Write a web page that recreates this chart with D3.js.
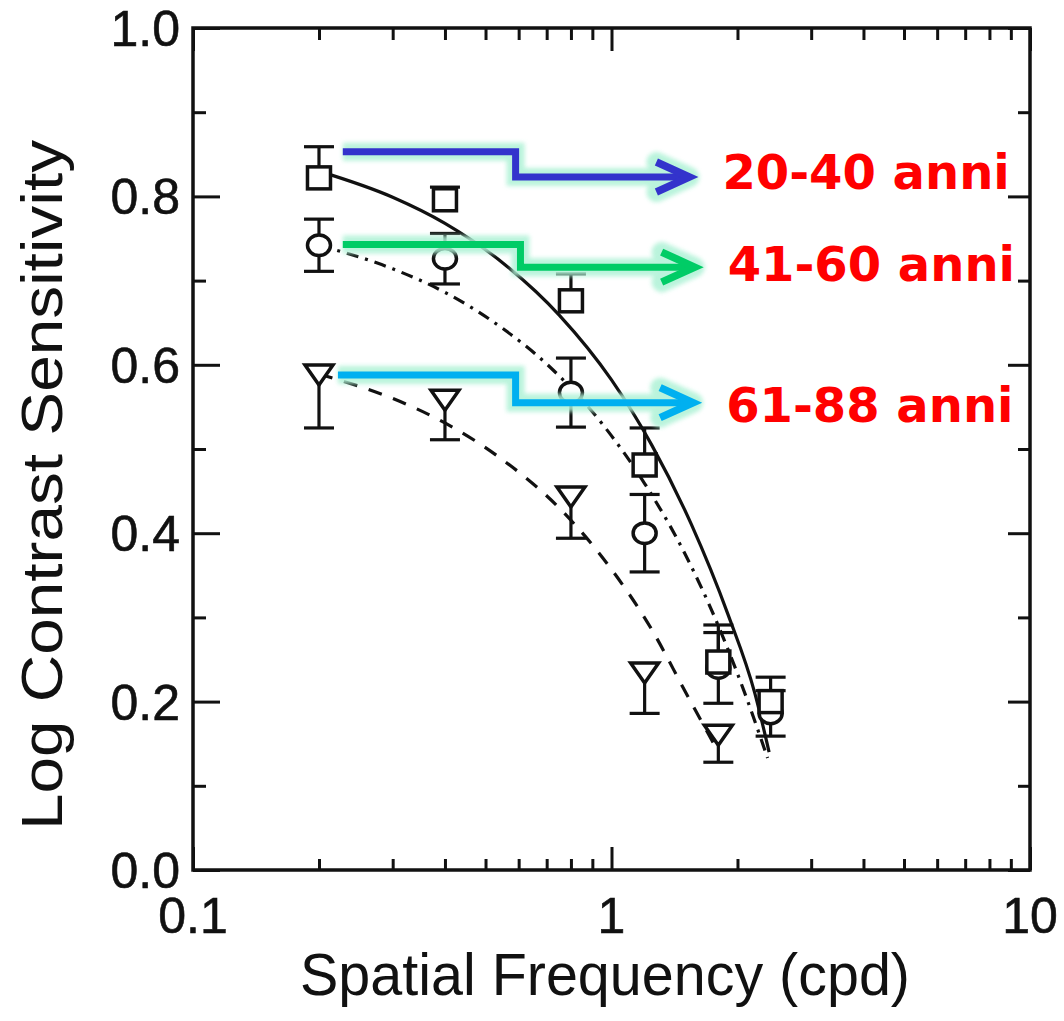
<!DOCTYPE html>
<html>
<head>
<meta charset="utf-8">
<script src="https://cdn.jsdelivr.net/npm/d3@7"></script>
<style>
  html, body { margin: 0; padding: 0; background: #fff; }
  svg { display: block; }
</style>
</head>
<body>
<svg id="chart" width="1064" height="1021"></svg>
<script>
// Spatial frequencies tested (cycles per degree)
const freq = [0.2, 0.4, 0.8, 1.2, 1.8, 2.4];
const freqOld = [0.2, 0.4, 0.8, 1.2, 1.8];

// Mean log contrast sensitivity and error per age group
const young = [0.822, 0.796, 0.676, 0.481, 0.247, 0.200];
const youngErr = [0.037, 0.015, 0.032, 0.044, 0.044, 0.029];
const middle = [0.742, 0.726, 0.567, 0.400, 0.240, 0.186];
const middleErr = [0.031, 0.030, 0.041, 0.046, 0.042, 0.027];
const older = [0.588, 0.558, 0.443, 0.234, 0.160];
const olderErr = [0.063, 0.047, 0.049, 0.048, 0.032];

// Fitted curves: [frequency, log CS]
const fitYoung = [[0.2,0.83],[0.3,0.799],[0.4,0.768],[0.55,0.721],[0.75,0.659],[1.0,0.582],[1.25,0.504],[1.55,0.411],[1.9,0.303],[2.2,0.21],[2.38,0.14]];
const fitMiddle = [[0.2,0.742],[0.3,0.714],[0.4,0.686],[0.55,0.643],[0.7,0.601],[0.95,0.53],[1.2,0.459],[1.5,0.375],[1.8,0.29],[2.1,0.205],[2.36,0.133]];
const fitOlder = [[0.2,0.589],[0.3,0.56],[0.4,0.531],[0.55,0.487],[0.75,0.43],[1.0,0.357],[1.25,0.285],[1.5,0.212],[1.8,0.14]];

// Axis ticks
const xMajor = [0.1, 1, 10];
const xMajorLabels = ["0.1", "1", "10"];
const xMinor = [0.2,0.3,0.4,0.5,0.6,0.7,0.8,0.9,2,3,4,5,6,7,8,9];
const yMajor = [0, 0.2, 0.4, 0.6, 0.8, 1.0];
const yMinor = [0.1, 0.3, 0.5, 0.7, 0.9];

// Age group call-outs
const groupLabels = ["20-40 anni", "41-60 anni", "61-88 anni"];
const groupColors = ["#3333cc", "#00cc66", "#00b0f0"];
const arrowStart = [0.228, 0.228, 0.222];
const arrowStep = [0.59, 0.606, 0.59];
const arrowTip = [1.535, 1.58, 1.567];
const arrowHigh = [0.853, 0.743, 0.588];
const arrowLow = [0.823, 0.716, 0.555];
const labelLevel = [0.809, 0.6995, 0.532];

const svg = d3.select("#chart");
const L = 193, R = 1030, T = 28, B = 870;
const x = d3.scaleLog().domain([0.1, 10]).range([L, R]);
const y = d3.scaleLinear().domain([0, 1]).range([B, T]);

const defs = svg.append("defs");
const blur = defs.append("filter").attr("id", "glow").attr("x", "-20%").attr("y", "-50%").attr("width", "140%").attr("height", "200%");
blur.append("feGaussianBlur").attr("stdDeviation", 2.2);

const AX = "#111";
const axisFont = "'Liberation Sans', Arial, Helvetica, sans-serif";

// Ticks on all four sides, pointing inward
function ticks(axisFn, values, size, transform) {
  const g = svg.append("g").attr("transform", transform)
    .call(axisFn.tickValues(values).tickSize(size).tickFormat(""));
  g.select(".domain").remove();
  g.selectAll(".tick line").attr("stroke", AX).attr("stroke-width", 3);
  return g;
}
ticks(d3.axisBottom(x), xMinor, -11, `translate(0,${B})`);
ticks(d3.axisBottom(x), xMajor, -23, `translate(0,${B})`);
ticks(d3.axisTop(x), xMinor, -12, `translate(0,${T})`);
ticks(d3.axisTop(x), xMajor, -23, `translate(0,${T})`);
ticks(d3.axisLeft(y), yMinor, -13, `translate(${L},0)`);
ticks(d3.axisLeft(y), yMajor, -27, `translate(${L},0)`);
ticks(d3.axisRight(y), yMinor, -12, `translate(${R},0)`);
ticks(d3.axisRight(y), yMajor, -22, `translate(${R},0)`);

// Frame
svg.append("rect").attr("x", L).attr("y", T).attr("width", R - L).attr("height", B - T)
  .attr("fill", "none").attr("stroke", AX).attr("stroke-width", 3.5);

// Tick labels
svg.append("g").selectAll("text").data(yMajor).join("text")
  .attr("x", 180).attr("y", d => y(d) + 18)
  .attr("text-anchor", "end")
  .attr("font-family", axisFont).attr("font-size", 50).attr("fill", AX)
  .attr("stroke", AX).attr("stroke-width", 0.6)
  .text(d => d.toFixed(1));
svg.append("g").selectAll("text").data(xMajor).join("text")
  .attr("x", d => x(d)).attr("y", 933)
  .attr("text-anchor", "middle")
  .attr("font-family", axisFont).attr("font-size", 50).attr("fill", AX)
  .attr("stroke", AX).attr("stroke-width", 0.6)
  .text((d, i) => xMajorLabels[i]);

// Axis titles
svg.append("text").attr("x", 605).attr("y", 995).attr("text-anchor", "middle")
  .attr("font-family", axisFont).attr("font-size", 59).attr("fill", AX)
  .attr("textLength", 610).attr("lengthAdjust", "spacingAndGlyphs")
  .text("Spatial Frequency (cpd)");
svg.append("text").attr("transform", "translate(62,485) rotate(-90)").attr("text-anchor", "middle")
  .attr("font-family", axisFont).attr("font-size", 58).attr("fill", AX)
  .attr("textLength", 690).attr("lengthAdjust", "spacingAndGlyphs")
  .text("Log Contrast Sensitivity");

// Fitted curves
const line = d3.line().x(d => x(d[0])).y(d => y(d[1])).curve(d3.curveMonotoneX);
const curves = [
  { pts: fitYoung, dash: null },
  { pts: fitMiddle, dash: "12,7,3,7" },
  { pts: fitOlder, dash: "14,12" }
];
svg.append("g").selectAll("path").data(curves).join("path")
  .attr("d", d => line(d.pts))
  .attr("fill", "none").attr("stroke", AX).attr("stroke-width", 3.2)
  .attr("stroke-dasharray", d => d.dash);

// Error bars
const CAP = 15;
function errorBars(fs, vals, errs, up, down) {
  const g = svg.append("g").attr("stroke", AX).attr("stroke-width", 3.2);
  fs.forEach((f, i) => {
    const cx = x(f);
    const top = up ? y(vals[i] + errs[i]) : y(vals[i]);
    const bot = down ? y(vals[i] - errs[i]) : y(vals[i]);
    g.append("line").attr("x1", cx).attr("x2", cx).attr("y1", top).attr("y2", bot);
    if (up) g.append("line").attr("x1", cx - CAP).attr("x2", cx + CAP).attr("y1", top).attr("y2", top);
    if (down) g.append("line").attr("x1", cx - CAP).attr("x2", cx + CAP).attr("y1", bot).attr("y2", bot);
  });
}
errorBars(freqOld, older, olderErr, false, true);
errorBars(freq, middle, middleErr, true, true);
errorBars(freq, young, youngErr, true, false);

// Markers
svg.append("g").selectAll("path").data(freqOld).join("path")
  .attr("d", (f, i) => {
    const cx = x(f), cy = y(older[i]);
    return `M${cx - 14},${cy - 10}L${cx + 14},${cy - 10}L${cx},${cy + 10}Z`;
  })
  .attr("fill", "#fff").attr("stroke", AX).attr("stroke-width", 3.5).attr("stroke-linejoin", "miter");
svg.append("g").selectAll("ellipse").data(freq).join("ellipse")
  .attr("cx", f => x(f)).attr("cy", (f, i) => y(middle[i]))
  .attr("rx", 11.5).attr("ry", 10.3)
  .attr("fill", "#fff").attr("stroke", AX).attr("stroke-width", 3.5);
svg.append("g").selectAll("rect").data(freq).join("rect")
  .attr("x", f => x(f) - 11.5).attr("y", (f, i) => y(young[i]) - 11)
  .attr("width", 23).attr("height", 22)
  .attr("fill", "#fff").attr("stroke", AX).attr("stroke-width", 3.5);

// Call-out arrows with a soft halo
const calls = groupLabels.map((t, i) => {
  const x0 = x(arrowStart[i]), xs = x(arrowStep[i]), xt = x(arrowTip[i]);
  const y0 = y(arrowHigh[i]), y1 = y(arrowLow[i]);
  return {
    shaft: `M${x0},${y0}H${xs}V${y1}H${xt - 3}`,
    head: `M${xt - 33},${y1 - 15}L${xt},${y1}L${xt - 33},${y1 + 15}`,
    color: groupColors[i], text: t, tx: xt + 33, ty: y(labelLevel[i])
  };
});
const halo = svg.append("g").attr("filter", "url(#glow)").attr("opacity", 0.85);
calls.forEach(c => {
  halo.append("path").attr("d", c.shaft).attr("fill", "none").attr("stroke", "#aef2d6")
    .attr("stroke-width", 18).attr("stroke-linejoin", "miter");
  halo.append("path").attr("d", c.head).attr("fill", "none").attr("stroke", "#aef2d6")
    .attr("stroke-width", 20).attr("stroke-linejoin", "round").attr("stroke-linecap", "round");
});
calls.forEach(c => {
  svg.append("path").attr("d", c.shaft).attr("fill", "none").attr("stroke", c.color)
    .attr("stroke-width", 7).attr("stroke-linejoin", "miter");
  svg.append("path").attr("d", c.head).attr("fill", "none").attr("stroke", c.color)
    .attr("stroke-width", 7.5).attr("stroke-linejoin", "miter").attr("stroke-linecap", "butt");
  svg.append("text").attr("x", c.tx).attr("y", c.ty)
    .attr("font-family", "'DejaVu Sans', Verdana, sans-serif").attr("font-weight", "bold")
    .attr("font-size", 48).attr("fill", "#ff0000").text(c.text);
});
</script>
</body>
</html>
